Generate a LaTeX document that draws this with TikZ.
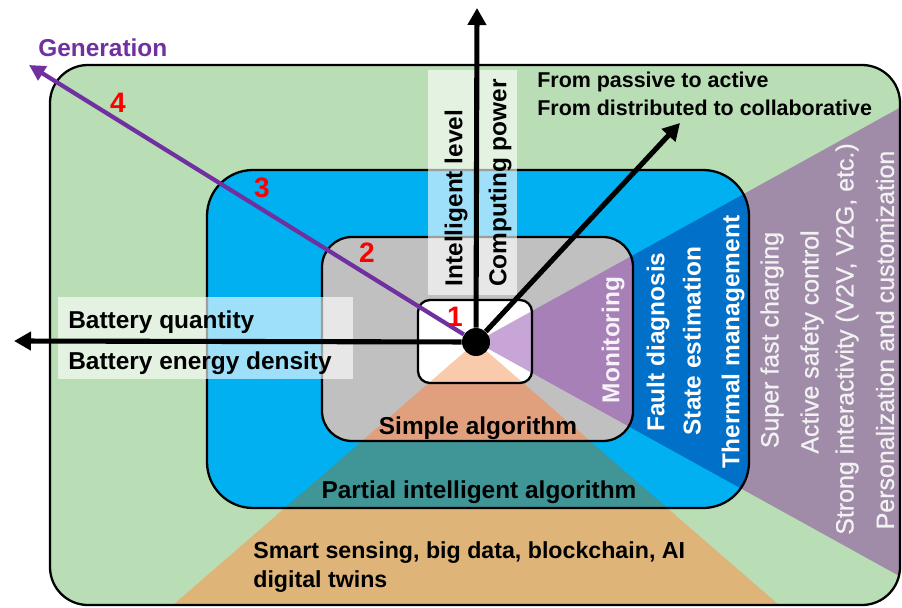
\documentclass[tikz,border=0pt]{standalone}
\usepackage{fontspec}
\setmainfont{Liberation Sans}
\newfontfamily\semibold[FakeBold=0.7]{Liberation Sans}
\usetikzlibrary{arrows.meta}
\definecolor{greenbg}{HTML}{B9DDB5}
\definecolor{bluebg}{HTML}{00B0F0}
\definecolor{graybg}{HTML}{C0C0C0}
\definecolor{tanc}{HTML}{DEB478}
\definecolor{tealc}{HTML}{409696}
\definecolor{salmonc}{HTML}{E0A07E}
\definecolor{peachc}{HTML}{F9CBAC}
\definecolor{mauvec}{HTML}{A08CA8}
\definecolor{dbluec}{HTML}{0070C8}
\definecolor{purplec}{HTML}{A680B6}
\definecolor{lilacc}{HTML}{C8A5D7}
\definecolor{genpurple}{HTML}{7030A0}
\definecolor{paletext}{HTML}{F2F2F2}
\tikzset{
  frame/.style={draw=black, line width=1.3pt},
  axisarrow/.style={line width=2.9pt, -{Triangle[length=0.34cm,width=0.36cm]}},
  genarrow/.style={draw=genpurple, line width=2.4pt, -{Triangle[length=0.32cm,width=0.32cm]}},
  lbl/.style={font=\fontsize{13.9}{16}\selectfont\bfseries, inner sep=0pt},
  smalllbl/.style={font=\fontsize{13.2}{16}\selectfont\bfseries, inner sep=0pt},
  toplbl/.style={font=\fontsize{12.2}{15}\selectfont\bfseries, inner sep=0pt},
  vlbl/.style={lbl, rotate=90},
  wlbl/.style={vlbl, text=white},
  rlbl/.style={font=\fontsize{14.2}{16}\selectfont\semibold, text=paletext, rotate=90, inner sep=0pt},
  num/.style={font=\fontsize{16}{18}\selectfont\bfseries, text=red, inner sep=0pt},
  glass/.style={fill=white, fill opacity=0.62, draw=none},
}
\begin{document}
\begin{tikzpicture}[x=0.02cm, y=-0.02cm]
\useasboundingbox (0,0) rectangle (902,608);
% apex and wedge ends
\coordinate (o) at (476,342);
\coordinate (bl) at (165,612);
\coordinate (br) at (787,612);
\coordinate (ru) at (912,101);
\coordinate (rd) at (912,583);
% green region
\fill[greenbg, rounded corners=0.76cm] (50,65) rectangle (900,605);
\begin{scope}
  \clip[rounded corners=0.76cm] (50,65) rectangle (900,605);
  \fill[tanc] (o) -- (bl) -- (br) -- cycle;
  \fill[mauvec] (o) -- (ru) -- (rd) -- cycle;
\end{scope}
% blue region
\fill[bluebg, rounded corners=0.92cm] (207,170) rectangle (749,508);
\begin{scope}
  \clip[rounded corners=0.92cm] (207,170) rectangle (749,508);
  \fill[tealc] (o) -- (bl) -- (br) -- cycle;
  \fill[dbluec] (o) -- (ru) -- (rd) -- cycle;
\end{scope}
% gray region
\fill[graybg, rounded corners=0.6cm] (322,237) rectangle (633,441);
\begin{scope}
  \clip[rounded corners=0.6cm] (322,237) rectangle (633,441);
  \fill[salmonc] (o) -- (bl) -- (br) -- cycle;
  \fill[purplec] (o) -- (ru) -- (rd) -- cycle;
\end{scope}
% white region
\fill[white, rounded corners=0.24cm] (418,300) rectangle (532,383);
\begin{scope}
  \clip[rounded corners=0.24cm] (418,300) rectangle (532,383);
  \fill[peachc] (o) -- (bl) -- (br) -- cycle;
  \fill[lilacc] (o) -- (ru) -- (rd) -- cycle;
\end{scope}
% outlines
\draw[frame, rounded corners=0.76cm] (50,65) rectangle (900,605);
\draw[frame, rounded corners=0.92cm] (207,170) rectangle (749,508);
\draw[frame, rounded corners=0.6cm] (322,237) rectangle (633,441);
\draw[frame, rounded corners=0.24cm] (418,300) rectangle (532,383);
% translucent label boxes
\fill[glass] (428,70) rectangle (517,295);
\fill[glass] (58,297) rectangle (353,379);
% axis labels
\node[vlbl] (il) at (456,198) {Intelligent level};
\node[vlbl] (cp) at (500,183) {Computing power};
\node[lbl, anchor=west] (bq) at (68,322) {Battery quantity};
\node[lbl, anchor=west] (bd) at (68,363) {Battery energy density};
\node[toplbl, anchor=west] (fp) at (537,82) {From passive to active};
\node[toplbl, anchor=west] (fd) at (537,108) {From distributed to collaborative};
\node[lbl, text=genpurple, anchor=west] (gen) at (38,48) {Generation};
% bottom labels
\node[lbl] (sa) at (478,428) {Simple algorithm};
\node[lbl] (pa) at (479,492) {Partial intelligent algorithm};
\node[smalllbl, anchor=west] (ss) at (253,553) {Smart sensing, big data, blockchain, AI};
\node[smalllbl, anchor=west] (dt) at (253,582) {digital twins};
% right labels
\node[wlbl, text=white!90!purplec] (mo) at (613,340) {Monitoring};
\node[wlbl] (fdg) at (658,342) {Fault diagnosis};
\node[wlbl] (se) at (692,341) {State estimation};
\node[wlbl] (tm) at (733,342) {Thermal management};
\node[rlbl] (sf) at (772,340) {Super fast charging};
\node[rlbl] (as) at (812,342) {Active safety control};
\node[rlbl] (si) at (847,339) {Strong interactivity (V2V, V2G, etc.)};
\node[rlbl] (pc) at (885,340) {Personalization and customization};
% arrows
\coordinate (tU) at (477,8);
\coordinate (tL) at (14,341);
\coordinate (tD) at (680,123);
\coordinate (tG) at (29,65);
\node[circle, fill=black, minimum size=0.56cm, inner sep=0pt] (c) at (o) {};
\draw[genarrow] (c) -- (tG);
\draw[axisarrow] (c) -- (tU);
\draw[axisarrow] (c) -- (tL);
\draw[axisarrow] (c) -- (tD);
% numbers
\node[num] (n1) at (455,317) {1};
\node[num] (n2) at (367,253) {2};
\node[num] (n3) at (262,188) {3};
\node[num] (n4) at (118,103) {4};
\end{tikzpicture}
\end{document}
